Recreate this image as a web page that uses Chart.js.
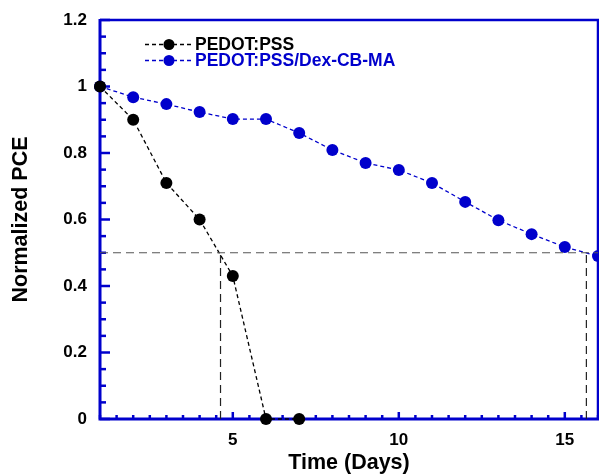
<!doctype html>
<html>
<head>
    <title>Normalized PCE</title>
    <script src="https://cdn.jsdelivr.net/npm/chart.js"></script>
    <style>
        body { margin: 0; background: #fff; }
        #wrap { width: 599px; height: 476px; }
    </style>
</head>
<body>
    <div id="wrap">
        <canvas id="grafico"></canvas>
    </div>

    <script>
        // dados
        var dias = [1, 2, 3, 4, 5, 6, 7, 8, 9, 10, 11, 12, 13, 14, 15, 16];
        var pedot = [1.0, 0.90, 0.71, 0.60, 0.43, 0, 0];
        var pedotDex = [1.0, 0.968, 0.947, 0.923, 0.902, 0.902, 0.86, 0.809, 0.77, 0.749, 0.71, 0.653, 0.598, 0.556, 0.517, 0.49];
        var nivelMeia = 0.5;          // linha de 50%
        var t50 = [4.63, 15.65];      // tempos onde cruza 0.5
        var xLabels = [5, 10, 15];
        var yLabels = [0, 0.2, 0.4, 0.6, 0.8, 1, 1.2];
        var nomes = ['PEDOT:PSS', 'PEDOT:PSS/Dex-CB-MA'];

        var AZUL = '#0000CC';
        var PRETO = '#000000';
        var FONTE = '"Liberation Sans", Arial, sans-serif';

        function pontos(ys) {
            return ys.map((y, i) => ({ x: dias[i], y: y }));
        }

        // eixos azuis com ticks para dentro + legenda
        var molduraPlugin = {
            id: 'moldura',
            beforeDatasetsDraw(chart) {
                var ctx = chart.ctx;
                var a = chart.chartArea;
                var xs = chart.scales.x, ys = chart.scales.y;
                ctx.save();
                ctx.strokeStyle = AZUL;
                ctx.lineCap = 'butt';

                // topo e direita
                ctx.lineWidth = 2.5;
                ctx.beginPath();
                ctx.moveTo(a.left, a.top);
                ctx.lineTo(a.right, a.top);
                ctx.lineTo(a.right, a.bottom);
                ctx.stroke();

                // esquerda e base
                ctx.lineWidth = 3;
                ctx.beginPath();
                ctx.moveTo(a.left, a.top - 1);
                ctx.lineTo(a.left, a.bottom);
                ctx.lineTo(a.right + 1, a.bottom);
                ctx.stroke();

                // ticks y (0.05 menores, 0.2 maiores)
                ctx.lineWidth = 2.5;
                for (var k = 0; k <= 24; k++) {
                    var v = k * 0.05;
                    var py = ys.getPixelForValue(v);
                    var len = (k % 4 == 0) ? 10 : 6;
                    ctx.beginPath();
                    ctx.moveTo(a.left, py);
                    ctx.lineTo(a.left + len, py);
                    ctx.stroke();
                }
                // ticks x (0.5 menores, 5 maiores)
                for (var j = 2; j <= 32; j++) {
                    var xv = j * 0.5;
                    if (xv > 16) break;
                    var px = xs.getPixelForValue(xv);
                    var lx = (xv % 5 == 0) ? 7 : 4;
                    ctx.beginPath();
                    ctx.moveTo(px, a.bottom);
                    ctx.lineTo(px, a.bottom - lx);
                    ctx.stroke();
                }
                ctx.restore();
            },
            afterDraw(chart) {
                var ctx = chart.ctx;
                var cores = [PRETO, AZUL];
                var linhas = [44.5, 60.5];
                ctx.save();
                cores.forEach((cor, i) => {
                    var y = linhas[i];
                    ctx.strokeStyle = cor;
                    ctx.lineWidth = 1.3;
                    ctx.setLineDash([4, 3]);
                    ctx.beginPath();
                    ctx.moveTo(145, y);
                    ctx.lineTo(193, y);
                    ctx.stroke();
                    ctx.setLineDash([]);
                    ctx.fillStyle = cor;
                    ctx.beginPath();
                    ctx.arc(169, y, 5.5, 0, Math.PI * 2);
                    ctx.fill();
                    ctx.font = 'bold 17.5px ' + FONTE;
                    ctx.textBaseline = 'middle';
                    ctx.textAlign = 'left';
                    ctx.fillText(nomes[i], 195, y + 0.5);
                });
                ctx.restore();
            }
        };

        var grafico = new Chart(document.getElementById('grafico').getContext('2d'), {
            type: 'line',
            data: {
                datasets: [
                    {
                        label: 'meia',
                        data: [{ x: 1, y: nivelMeia }, { x: 16, y: nivelMeia }],
                        borderColor: '#555555',
                        borderWidth: 1.2,
                        borderDash: [8, 5],
                        pointRadius: 0
                    },
                    {
                        label: 't50a',
                        data: [{ x: t50[0], y: 0 }, { x: t50[0], y: nivelMeia }],
                        borderColor: '#222222',
                        borderWidth: 1.2,
                        borderDash: [8, 5],
                        pointRadius: 0
                    },
                    {
                        label: 't50b',
                        data: [{ x: t50[1], y: 0 }, { x: t50[1], y: nivelMeia }],
                        borderColor: '#222222',
                        borderWidth: 1.2,
                        borderDash: [8, 5],
                        pointRadius: 0
                    },
                    {
                        label: nomes[0],
                        data: pontos(pedot),
                        borderColor: PRETO,
                        backgroundColor: PRETO,
                        borderWidth: 1.3,
                        borderDash: [4, 3],
                        pointRadius: 6,
                        pointBorderWidth: 0
                    },
                    {
                        label: nomes[1],
                        data: pontos(pedotDex),
                        borderColor: AZUL,
                        backgroundColor: AZUL,
                        borderWidth: 1.3,
                        borderDash: [4, 3],
                        pointRadius: 6,
                        pointBorderWidth: 0
                    }
                ]
            },
            options: {
                responsive: true,
                maintainAspectRatio: false,
                animation: false,
                clip: false,
                layout: {
                    autoPadding: false,
                    padding: { top: 20, right: 1, left: 0, bottom: 0 }
                },
                plugins: {
                    legend: { display: false },
                    tooltip: { enabled: false }
                },
                scales: {
                    x: {
                        type: 'linear',
                        min: 1,
                        max: 16,
                        afterBuildTicks: (s) => { s.ticks = xLabels.map(v => ({ value: v })); },
                        afterFit: (s) => { s.height = 57; s.paddingLeft = 0; s.paddingRight = 0; },
                        grid: { display: false, drawTicks: false },
                        border: { display: false },
                        ticks: {
                            color: PRETO,
                            padding: 11,
                            maxRotation: 0,
                            autoSkip: false,
                            font: { family: FONTE, size: 17, weight: 'bold' }
                        },
                        title: {
                            display: true,
                            text: 'Time (Days)',
                            color: PRETO,
                            padding: 0,
                            font: { family: FONTE, size: 21.5, weight: 'bold', lineHeight: 1.2 }
                        }
                    },
                    y: {
                        min: 0,
                        max: 1.2,
                        afterBuildTicks: (s) => { s.ticks = yLabels.map(v => ({ value: v })); },
                        afterFit: (s) => { s.width = 100; s.paddingTop = 0; s.paddingBottom = 0; },
                        grid: { display: false, drawTicks: false },
                        border: { display: false },
                        ticks: {
                            color: PRETO,
                            padding: 13,
                            callback: (v) => String(Math.round(v * 10) / 10),
                            font: { family: FONTE, size: 17, weight: 'bold' }
                        },
                        title: {
                            display: true,
                            text: 'Normalized PCE',
                            color: PRETO,
                            padding: { top: 8, bottom: 0 },
                            font: { family: FONTE, size: 21.5, weight: 'bold', lineHeight: 1.2 }
                        }
                    }
                }
            },
            plugins: [molduraPlugin]
        });
    </script>
</body>
</html>
